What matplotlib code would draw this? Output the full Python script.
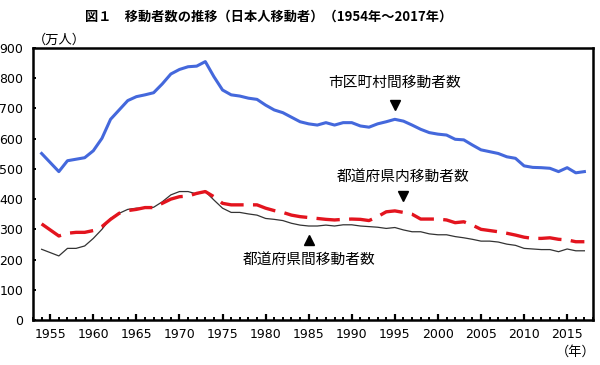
#!/usr/bin/env python3
"""Japanese movers by type, 1954-2017 (recreated chart)."""

import numpy as np
import matplotlib
matplotlib.use("Agg")
import matplotlib.pyplot as plt
from matplotlib.ticker import MultipleLocator

plt.rcParams["font.family"] = ["Noto Sans CJK JP", "DejaVu Sans"]

years = list(range(1954, 2018))

# 市区町村間移動者数 (万人)
intermunicipal = [
    551, 521, 491, 527, 532, 537, 560, 601, 664, 695,
    726, 739, 745, 752, 781, 814, 829, 838, 840, 855,
    805, 761, 745, 741, 734, 730, 711, 695, 686, 671,
    656, 649, 645, 653, 645, 653, 653, 642, 638, 649,
    656, 664, 658, 645, 631, 620, 615, 612, 598, 596,
    579, 563, 557, 551, 540, 535, 510, 505, 504, 502,
    491, 504, 487, 491,
]

# 都道府県内移動者数 (万人)
intraprefectural = [
    318, 298, 278, 287, 290, 290, 296, 309, 333, 353,
    362, 366, 372, 372, 386, 400, 408, 410, 419, 425,
    408, 386, 381, 381, 381, 381, 370, 362, 356, 347,
    342, 339, 336, 333, 331, 333, 334, 333, 329, 342,
    358, 361, 356, 350, 334, 334, 334, 331, 322, 325,
    314, 300, 296, 292, 287, 281, 274, 270, 270, 272,
    267, 265, 259, 259,
]

# 都道府県間移動者数 (万人)
interprefectural = [
    234, 223, 212, 237, 237, 245, 270, 300, 336, 353,
    366, 370, 370, 373, 391, 414, 425, 425, 417, 425,
    397, 370, 356, 356, 351, 347, 336, 333, 329, 320,
    314, 311, 311, 314, 311, 315, 315, 311, 309, 307,
    303, 306, 298, 292, 292, 285, 282, 282, 276, 272,
    267, 261, 261, 258, 251, 247, 237, 235, 233, 233,
    226, 235, 229, 229,
]

fig = plt.figure(figsize=(6.0, 3.65), dpi=100)
ax = fig.add_axes([33 / 600, 1 - 320 / 365, 560 / 600, 272 / 365])

ax.plot(years, interprefectural, color="#333333", lw=0.9, zorder=2)
ax.plot(years, intraprefectural, color="#E3141E", lw=2.4,
        dashes=(7, 2.8), zorder=3)
ax.plot(years, intermunicipal, color="#4468DC", lw=2.2, zorder=4)

ax.set_xlim(1953, 2018)
ax.set_ylim(0, 900)
ax.xaxis.set_minor_locator(MultipleLocator(1))
ax.yaxis.set_major_locator(MultipleLocator(100))
ax.set_xticks(range(1955, 2016, 5))
ax.tick_params(axis="x", which="major", direction="in", length=4, width=1.6,
               pad=6, labelsize=9)
ax.tick_params(axis="x", which="minor", direction="in", length=2.2, width=1.4)
ax.tick_params(axis="y", which="major", direction="in", length=2.2, width=1.4,
               pad=7, labelsize=9)
for lab in ax.get_xticklabels() + ax.get_yticklabels():
    lab.set_family("DejaVu Sans")
for sp in ax.spines.values():
    sp.set_linewidth(1.8)
    sp.set_color("black")

# annotations
ax.text(1995, 784, "市区町村間移動者数", ha="center", va="center", fontsize=10.6)
ax.plot([1995], [711], marker="v", color="black", markersize=6.5, ls="none")
ax.text(1996, 474, "都道府県内移動者数", ha="center", va="center", fontsize=10.6)
ax.plot([1996], [410], marker="v", color="black", markersize=6.5, ls="none")
ax.text(1985, 199, "都道府県間移動者数", ha="center", va="center", fontsize=10.6)
ax.plot([1985], [265], marker="^", color="black", markersize=6.5, ls="none")

fig.text(269 / 600, 1 - 17 / 365,
         "図１　移動者数の推移（日本人移動者）（1954年～2017年）",
         ha="center", va="center", fontsize=9.5, fontweight="bold")
fig.text(33 / 600, 1 - 40 / 365, "（万人）", ha="left", va="center", fontsize=9.5)
fig.text(596 / 600, 1 - 352 / 365, "（年）", ha="right", va="center", fontsize=9.5)

fig.savefig("out.png", dpi=100)
